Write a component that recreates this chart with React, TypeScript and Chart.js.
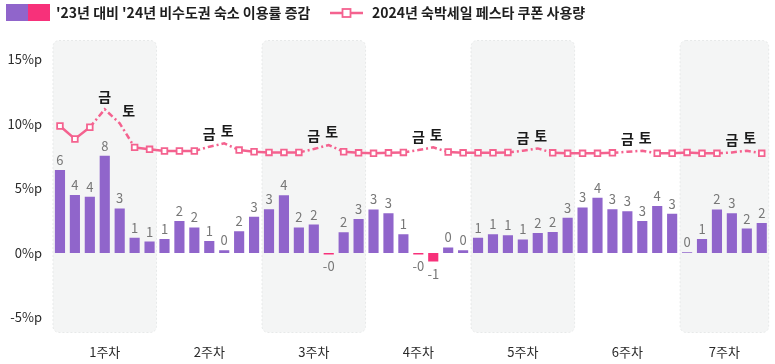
import React, { useEffect, useRef } from 'react';
import { Chart, registerables } from 'chart.js';

Chart.register(...registerables);

const FONT = "'Noto Sans CJK KR', 'Noto Sans', sans-serif";

const weekLabels = ['1주차', '2주차', '3주차', '4주차', '5주차', '6주차', '7주차'];

const days = [
  '화', '수', '목', '금', '토', '일', '월',
  '화', '수', '목', '금', '토', '일', '월',
  '화', '수', '목', '금', '토', '일', '월',
  '화', '수', '목', '금', '토', '일', '월',
  '화', '수', '목', '금', '토', '일', '월',
  '화', '수', '목', '금', '토', '일', '월',
  '화', '수', '목', '금', '토', '일',
];

const changeValues = [
  6.42, 4.5, 4.35, 7.53, 3.45, 1.17, 0.88,
  1.09, 2.48, 1.97, 0.93, 0.21, 1.68, 2.8,
  3.39, 4.48, 1.97, 2.2, -0.12, 1.61, 2.64,
  3.37, 3.08, 1.45, -0.12, -0.67, 0.42, 0.21,
  1.17, 1.45, 1.38, 1.04, 1.55, 1.63, 2.72,
  3.52, 4.27, 3.39, 3.24, 2.48, 3.63, 3.03,
  0.05, 1.09, 3.37, 3.08, 1.89, 2.33,
];

const changeLabels = [
  '6', '4', '4', '8', '3', '1', '1',
  '1', '2', '2', '1', '0', '2', '3',
  '3', '4', '2', '2', '-0', '2', '3',
  '3', '3', '1', '-0', '-1', '0', '0',
  '1', '1', '1', '1', '2', '2', '3',
  '3', '4', '3', '3', '3', '4', '3',
  '0', '1', '2', '3', '2', '2',
];

const couponValues = [
  9.84, 8.83, 9.74, 11.13, 10.05, 8.18, 8.03,
  7.9, 7.9, 7.9, 8.23, 8.49, 7.97, 7.84,
  7.79, 7.79, 7.79, 8.05, 8.36, 7.84, 7.76,
  7.72, 7.76, 7.79, 7.97, 8.18, 7.82, 7.76,
  7.76, 7.76, 7.79, 7.92, 8.1, 7.76, 7.72,
  7.72, 7.72, 7.76, 7.84, 7.92, 7.72, 7.72,
  7.79, 7.72, 7.72, 7.79, 7.92, 7.72,
];

const yTicks = [-5, 0, 5, 10, 15];
const shadedWeeks = [0, 2, 4, 6];
const highlightDays = ['금', '토'];

const legendBarLabel = "'23년 대비 '24년 비수도권 숙소 이용률 증감";
const legendLineLabel = '2024년 숙박세일 페스타 쿠폰 사용량';

const PURPLE = '#9065cb';
const PINK_BAR = '#f7317a';
const PINK_LINE = '#f4628f';

function getGroups() {
  const groups: { start: number; end: number }[] = [];
  days.forEach((d, i) => {
    if (d === '화') groups.push({ start: i, end: i });
    else groups[groups.length - 1].end = i;
  });
  return groups;
}

const isHighlight = (i: number) => highlightDays.includes(days[i]);

const decorPlugin = {
  id: 'decor',
  beforeDatasetsDraw(chart: any) {
    const { ctx, chartArea, scales } = chart;
    const x = scales.x;
    const step = x.getPixelForValue(1) - x.getPixelForValue(0);
    const groups = getGroups();
    ctx.save();
    groups.forEach((g, gi) => {
      if (!shadedWeeks.includes(gi)) return;
      const left = x.getPixelForValue(g.start) - step / 2;
      const right = Math.min(x.getPixelForValue(g.end) + step / 2, chartArea.right);
      ctx.beginPath();
      ctx.roundRect(left + 0.5, chartArea.top + 0.5, right - left - 1, chartArea.bottom - chartArea.top - 1, 6);
      ctx.fillStyle = '#f4f5f5';
      ctx.fill();
      ctx.setLineDash([2, 2]);
      ctx.strokeStyle = '#e7e9e9';
      ctx.lineWidth = 1;
      ctx.stroke();
    });
    ctx.restore();
  },
  afterDatasetsDraw(chart: any) {
    const { ctx, chartArea, scales } = chart;
    const x = scales.x;
    ctx.save();
    // bar value labels
    const barMeta = chart.getDatasetMeta(1);
    ctx.font = `13px ${FONT}`;
    ctx.fillStyle = '#777777';
    ctx.textAlign = 'center';
    ctx.textBaseline = 'middle';
    barMeta.data.forEach((el: any, i: number) => {
      const v = changeValues[i];
      const y = v >= 0 ? el.y - 10 : el.y + 12;
      ctx.fillText(changeLabels[i], el.x, y);
    });
    // 금/토 labels
    const lineMeta = chart.getDatasetMeta(0);
    ctx.font = `bold 14px ${FONT}`;
    ctx.fillStyle = '#1a1a1a';
    lineMeta.data.forEach((pt: any, i: number) => {
      if (!isHighlight(i)) return;
      let dx = 0;
      if (days[i] === '토') {
        const prev = lineMeta.data[i - 1];
        dx = prev && pt.y - prev.y > 6 ? 9 : 3;
      }
      ctx.fillText(days[i], pt.x + dx, pt.y - 13);
    });
    // week labels
    ctx.font = `13px ${FONT}`;
    ctx.fillStyle = '#2a2a2a';
    getGroups().forEach((g, gi) => {
      const cx = (x.getPixelForValue(g.start) + x.getPixelForValue(g.end)) / 2;
      ctx.fillText(weekLabels[gi], cx, chartArea.bottom + 19);
    });
    ctx.restore();
  },
  afterDraw(chart: any) {
    const { ctx } = chart;
    ctx.save();
    // bar legend
    ctx.fillStyle = PURPLE;
    ctx.fillRect(6, 4, 22, 17);
    ctx.fillStyle = PINK_BAR;
    ctx.fillRect(28, 4, 22, 17);
    ctx.font = `bold 14px ${FONT}`;
    ctx.fillStyle = '#1e1e1e';
    ctx.textAlign = 'left';
    ctx.textBaseline = 'middle';
    ctx.fillText(legendBarLabel, 56, 13);
    // line legend
    ctx.strokeStyle = PINK_LINE;
    ctx.lineWidth = 2.5;
    ctx.beginPath();
    ctx.moveTo(330, 13);
    ctx.lineTo(363, 13);
    ctx.stroke();
    ctx.fillStyle = '#ffffff';
    ctx.lineWidth = 1.8;
    ctx.fillRect(342.5, 9, 8, 8);
    ctx.strokeRect(342.5, 9, 8, 8);
    ctx.fillStyle = '#1e1e1e';
    ctx.fillText(legendLineLabel, 372, 13);
    ctx.restore();
  },
};

export default function App() {
  const canvasRef = useRef<HTMLCanvasElement | null>(null);

  useEffect(() => {
    const canvas = canvasRef.current;
    if (!canvas) return;
    const chart = new Chart(canvas, {
      type: 'bar',
      data: {
        labels: days,
        datasets: [
          {
            type: 'line',
            label: legendLineLabel,
            data: couponValues,
            order: 0,
            borderColor: PINK_LINE,
            borderWidth: 2.5,
            tension: 0,
            pointStyle: 'rect',
            pointRadius: couponValues.map((_, i) => (isHighlight(i) ? 0 : 4)),
            pointHoverRadius: 4,
            pointBackgroundColor: '#ffffff',
            pointBorderColor: PINK_LINE,
            pointBorderWidth: 1.8,
            segment: {
              borderDash: (c: any) =>
                isHighlight(c.p0DataIndex) || isHighlight(c.p1DataIndex) ? [6, 3, 2, 3] : undefined,
            },
          } as any,
          {
            type: 'bar',
            label: legendBarLabel,
            data: changeValues,
            order: 1,
            backgroundColor: changeValues.map((v) => (v < 0 ? PINK_BAR : PURPLE)),
            barPercentage: 0.68,
            categoryPercentage: 1,
          },
        ],
      },
      options: {
        responsive: false,
        animation: false,
        devicePixelRatio: 1,
        layout: { padding: { top: 40, right: 5, left: 0, bottom: 0 } },
        plugins: {
          legend: { display: false },
          tooltip: { enabled: false },
        },
        scales: {
          x: {
            grid: { display: false },
            border: { display: false },
            ticks: { display: false },
            afterFit: (s: any) => {
              s.height = 31;
            },
          },
          y: {
            min: -6.2,
            max: 16.5,
            grid: { display: false, drawTicks: false },
            border: { display: false },
            afterBuildTicks: (s: any) => {
              s.ticks = yTicks.map((v) => ({ value: v }));
            },
            afterFit: (s: any) => {
              s.width = 52.5;
            },
            ticks: {
              padding: 10.5,
              color: '#2a2a2a',
              font: { family: FONT, size: 13 },
              callback: (v: any) => `${v}%p`,
            },
          },
        },
      },
      plugins: [decorPlugin],
    });
    return () => chart.destroy();
  }, []);

  return (
    <div style={{ position: 'fixed', left: 0, top: 0, width: 775, height: 364, background: '#fff' }}>
      <canvas ref={canvasRef} width={775} height={364} />
    </div>
  );
}
